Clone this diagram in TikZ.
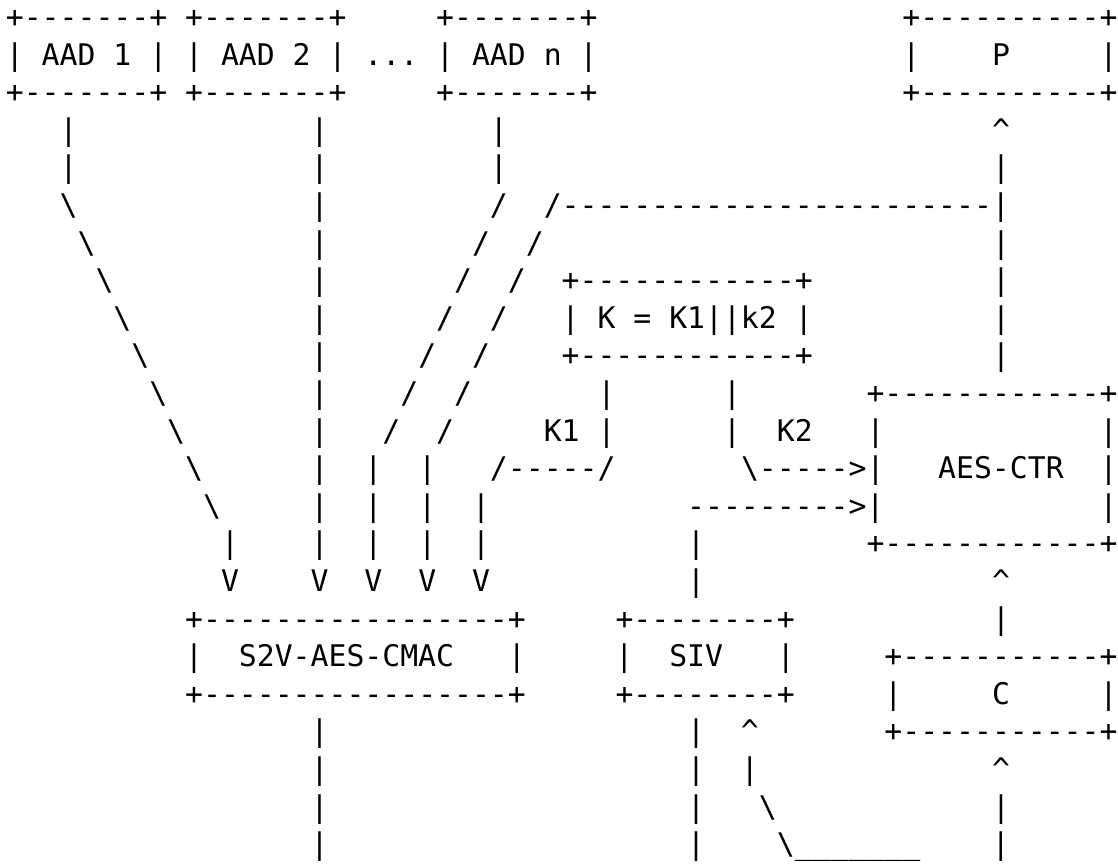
\documentclass[tikz,border=0pt]{standalone}
\usepackage{fontspec}
\usepackage{tikz}
\setmonofont{DejaVu Sans Mono}
\newcommand\gap[1]{\hspace*{#1\dimexpr 9pt\relax}}
\tikzset{
  asciirow/.style={anchor=base west, inner sep=0pt,
    font=\ttfamily\fontsize{14.95pt}{18.875pt}\selectfont}
}

\begin{document}
\begin{tikzpicture}
  \useasboundingbox (0,0) rectangle (561.2pt,-434.7pt);
  \fill[white] (0,0) rectangle (561.2pt,-434.7pt);
  \node[asciirow] (row0) at (2.75pt,-13.75pt)
    {+-------+ +-------+\gap{5}+-------+\gap{17}+----------+};
  \node[asciirow] (row1) at (2.75pt,-32.625pt)
    {| AAD 1 | | AAD 2 | ...~| AAD n |\gap{17}|\gap{4}P\gap{5}|};
  \node[asciirow] (row2) at (2.75pt,-51.5pt)
    {+-------+ +-------+\gap{5}+-------+\gap{17}+----------+};
  \node[asciirow] (row3) at (2.75pt,-70.375pt)
    {\gap{3}|\gap{13}|\gap{9}|\gap{27}\textasciicircum};
  \node[asciirow] (row4) at (2.75pt,-89.25pt)
    {\gap{3}|\gap{13}|\gap{9}|\gap{27}|};
  \node[asciirow] (row5) at (2.75pt,-108.125pt)
    {\gap{3}\textbackslash\gap{13}|\gap{9}/\gap{2}/------------------------|};
  \node[asciirow] (row6) at (2.75pt,-127pt)
    {\gap{4}\textbackslash\gap{12}|\gap{8}/\gap{2}/\gap{25}|};
  \node[asciirow] (row7) at (2.75pt,-145.875pt)
    {\gap{5}\textbackslash\gap{11}|\gap{7}/\gap{2}/\gap{2}+------------+\gap{10}|};
  \node[asciirow] (row8) at (2.75pt,-164.75pt)
    {\gap{6}\textbackslash\gap{10}|\gap{6}/\gap{2}/\gap{3}| K = K1||k2 |\gap{10}|};
  \node[asciirow] (row9) at (2.75pt,-183.625pt)
    {\gap{7}\textbackslash\gap{9}|\gap{5}/\gap{2}/\gap{4}+------------+\gap{10}|};
  \node[asciirow] (row10) at (2.75pt,-202.5pt)
    {\gap{8}\textbackslash\gap{8}|\gap{4}/\gap{2}/\gap{7}|\gap{6}|\gap{7}+------------+};
  \node[asciirow] (row11) at (2.75pt,-221.375pt)
    {\gap{9}\textbackslash\gap{7}|\gap{3}/\gap{2}/\gap{5}K1 |\gap{6}|\gap{2}K2\gap{3}|\gap{12}|};
  \node[asciirow] (row12) at (2.75pt,-240.25pt)
    {\gap{10}\textbackslash\gap{6}|\gap{2}|\gap{2}|\gap{3}/-----/\gap{7}\textbackslash----->|\gap{3}AES-CTR\gap{2}|};
  \node[asciirow] (row13) at (2.75pt,-259.125pt)
    {\gap{11}\textbackslash\gap{5}|\gap{2}|\gap{2}|\gap{2}|\gap{11}--------->|\gap{12}|};
  \node[asciirow] (row14) at (2.75pt,-278pt)
    {\gap{12}|\gap{4}|\gap{2}|\gap{2}|\gap{2}|\gap{11}|\gap{9}+------------+};
  \node[asciirow] (row15) at (2.75pt,-296.875pt)
    {\gap{12}V\gap{4}V\gap{2}V\gap{2}V\gap{2}V\gap{11}|\gap{16}\textasciicircum};
  \node[asciirow] (row16) at (2.75pt,-315.75pt)
    {\gap{10}+-----------------+\gap{5}+--------+\gap{11}|};
  \node[asciirow] (row17) at (2.75pt,-334.625pt)
    {\gap{10}|\gap{2}S2V-AES-CMAC\gap{3}|\gap{5}|\gap{2}SIV\gap{3}|\gap{5}+-----------+};
  \node[asciirow] (row18) at (2.75pt,-353.5pt)
    {\gap{10}+-----------------+\gap{5}+--------+\gap{5}|\gap{5}C\gap{5}|};
  \node[asciirow] (row19) at (2.75pt,-372.375pt)
    {\gap{17}|\gap{20}|\gap{2}\textasciicircum\gap{7}+-----------+};
  \node[asciirow] (row20) at (2.75pt,-391.25pt)
    {\gap{17}|\gap{20}|\gap{2}|\gap{13}\textasciicircum};
  \node[asciirow] (row21) at (2.75pt,-410.125pt)
    {\gap{17}|\gap{20}|\gap{3}\textbackslash\gap{12}|};
  \node[asciirow] (row22) at (2.75pt,-429pt)
    {\gap{17}|\gap{20}|\gap{4}\textbackslash\_\_\_\_\_\_\_\gap{4}|};
\end{tikzpicture}
\end{document}
